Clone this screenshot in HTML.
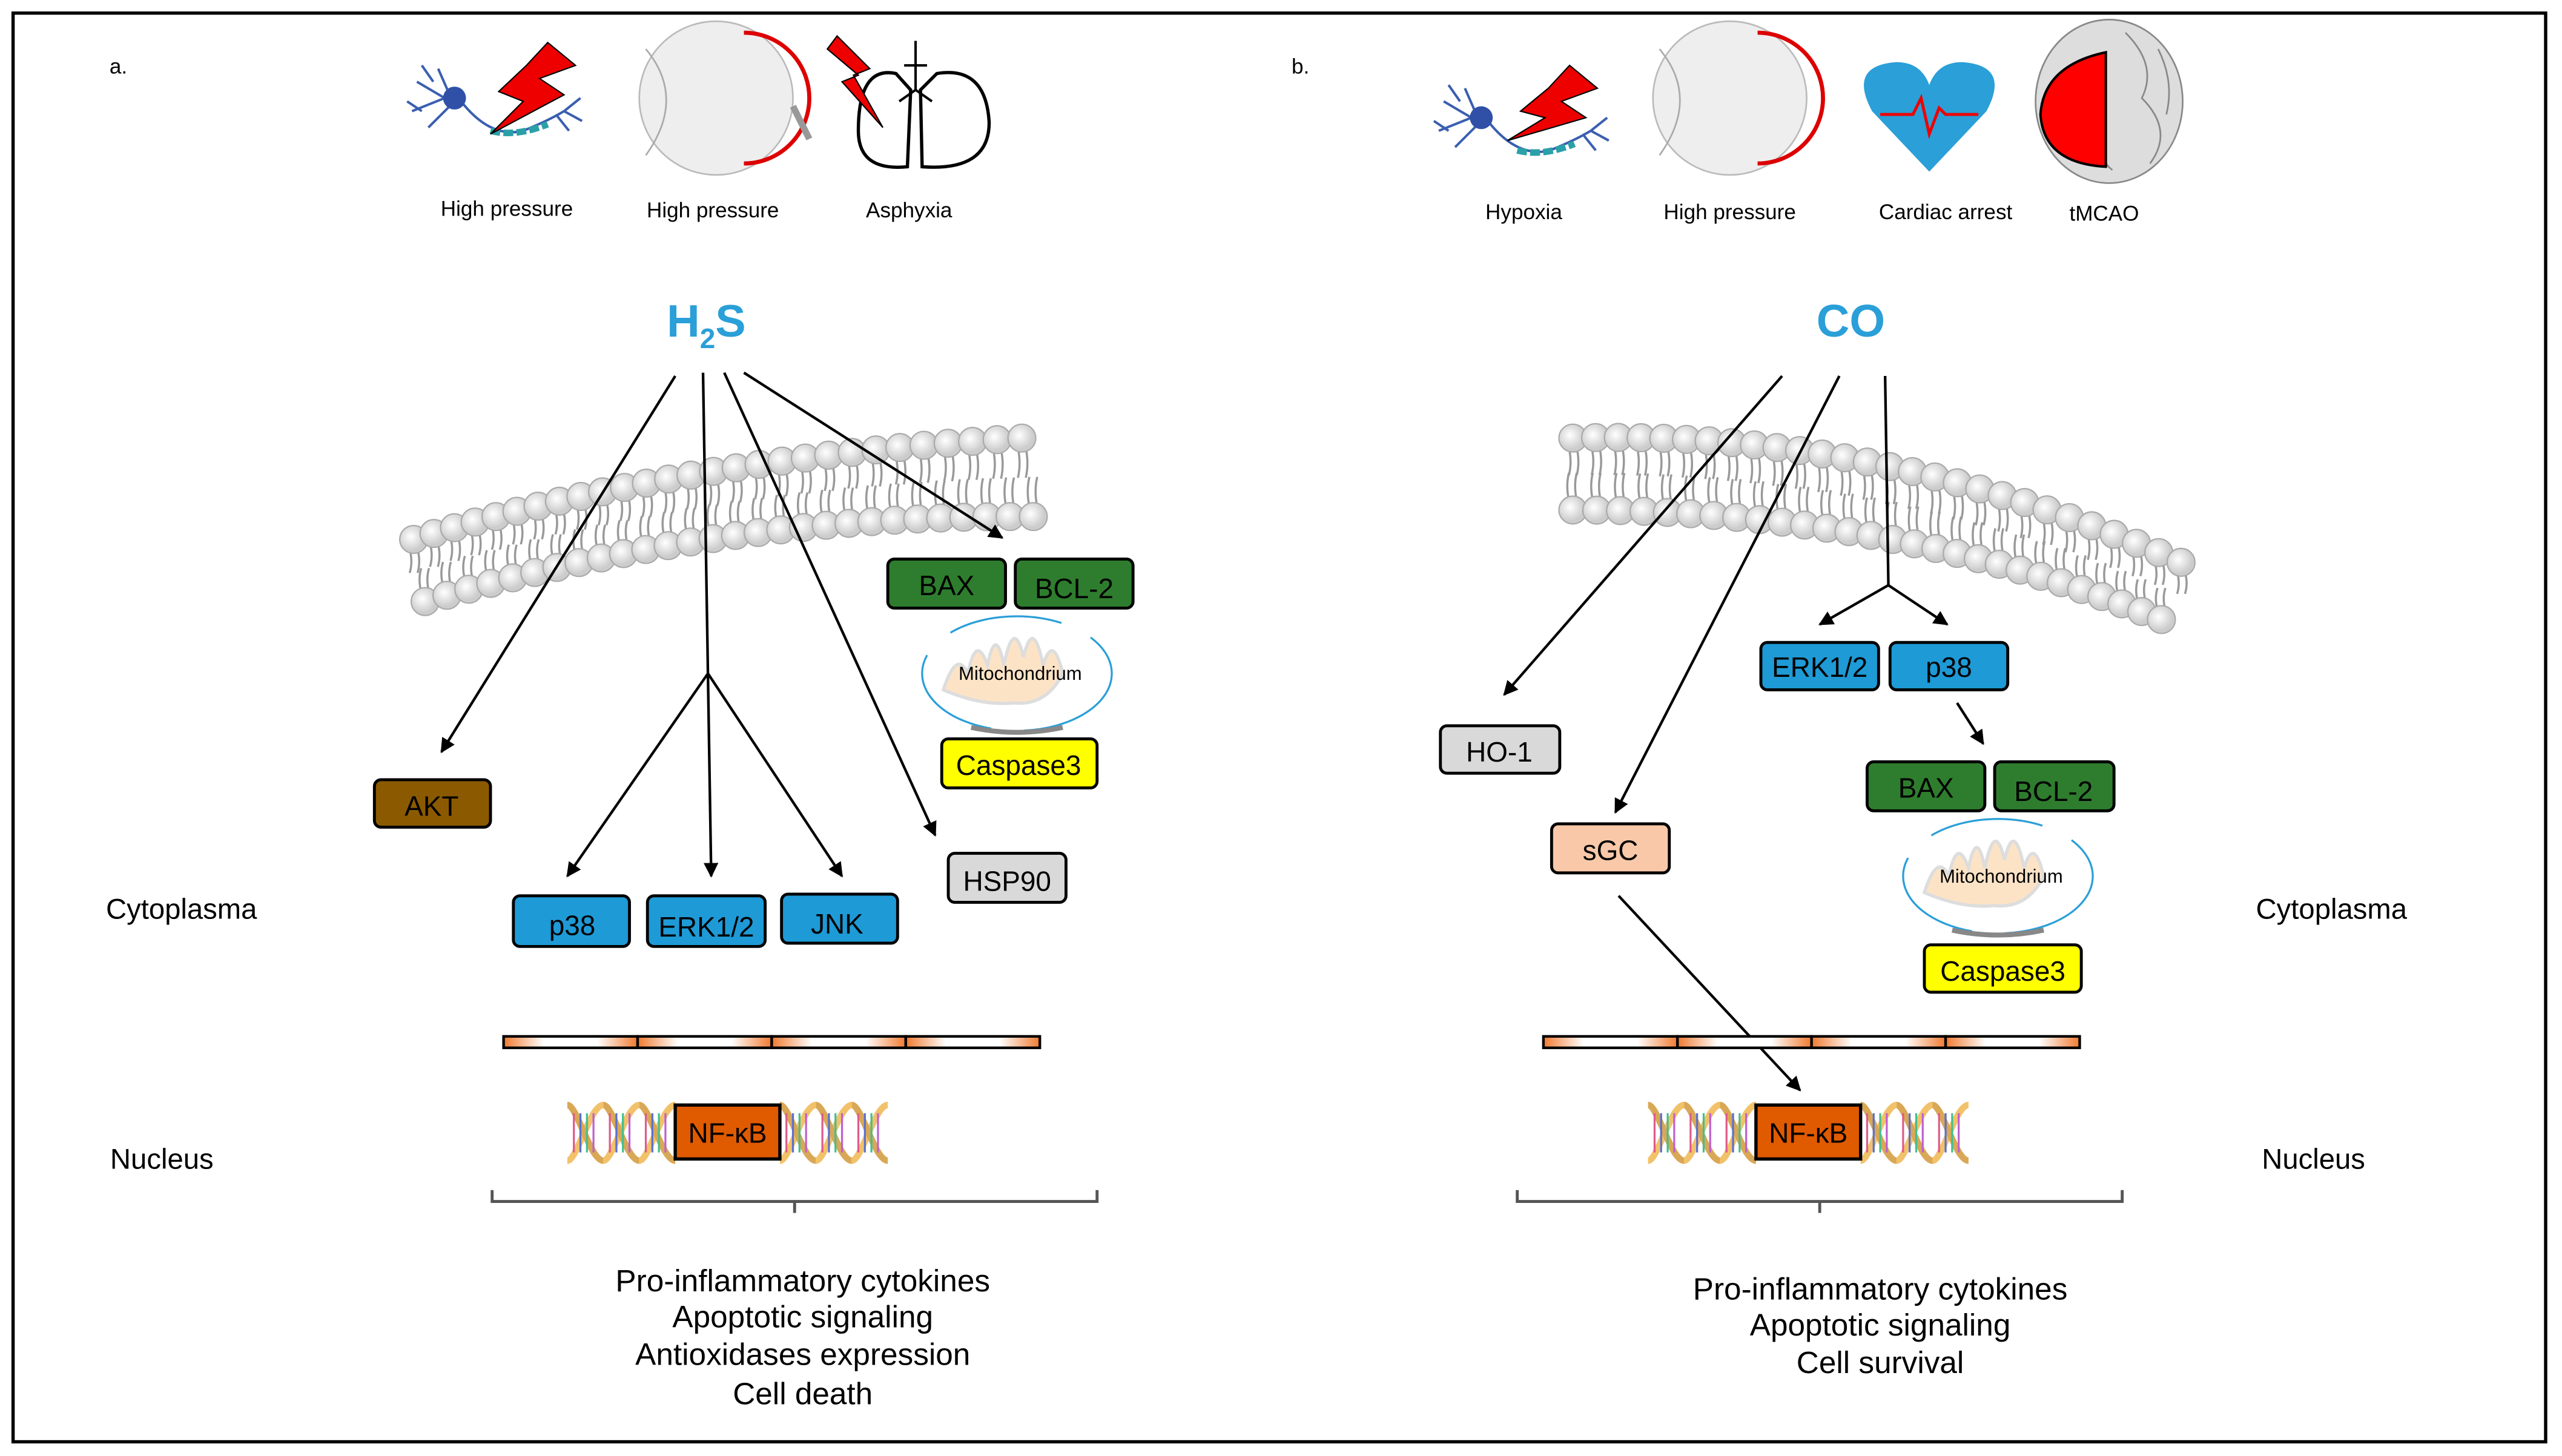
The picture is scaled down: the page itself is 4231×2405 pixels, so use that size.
<!DOCTYPE html>
<html><head><meta charset="utf-8"><style>
html,body{margin:0;padding:0;background:#fff}
svg{display:block}
text{font-family:"Liberation Sans",Arial,sans-serif}
</style></head><body>
<svg id="s" width="4231" height="2405" viewBox="0 0 1567 890.7" preserveAspectRatio="none" xmlns="http://www.w3.org/2000/svg">
<defs>
<marker id="ar" viewBox="0 0 10 10" refX="9" refY="5" markerWidth="9" markerHeight="9" markerUnits="userSpaceOnUse" orient="auto"><path d="M0,0 L10,5 L0,10 z" fill="#000"/></marker>
<linearGradient id="env" x1="0" x2="1"><stop offset="0" stop-color="#f07a30"/><stop offset="0.3" stop-color="#fff"/><stop offset="0.7" stop-color="#fff"/><stop offset="1" stop-color="#f07a30"/></linearGradient>
<radialGradient id="head" cx="0.4" cy="0.4"><stop offset="0" stop-color="#fff"/><stop offset="1" stop-color="#ccc"/></radialGradient>
</defs>
<rect x="8" y="8" width="1549" height="874" fill="#fff" stroke="#000" stroke-width="2"/>
<g id="mem"></g>

<text x="67" y="45" font-size="13">a.</text>
<g stroke="#3a5fb0" stroke-width="1.5" fill="none">
<path d="M272,60 L255,50 M272,60 L252,68 M275,58 L268,42 M278,62 L262,78 M265,50 L258,40 M258,68 L249,62"/>
<path d="M282,62 Q300,85 320,80 Q335,74 345,68 M345,68 L355,60 M345,68 L356,74 M340,70 L348,80"/>
</g>
<circle cx="278" cy="60" r="7" fill="#3050a8"/>
<path d="M300,80 Q315,84 335,76" stroke="#2aa0a8" stroke-width="4" fill="none" stroke-dasharray="6,2"/>
<polygon points="335,26 352,40 330,48 345,58 300,82 320,62 305,56 322,40" fill="#e00" stroke="#000" stroke-width="0.8"/>
<circle cx="438" cy="60" r="47" fill="#eee" stroke="#bbb"/>
<path d="M455,20 A40,40 0 0 1 455,100" stroke="#d00" stroke-width="2.5" fill="none"/>
<path d="M395,30 Q420,60 395,95" stroke="#aaa" fill="none"/>
<path d="M485,65 L495,85" stroke="#999" stroke-width="4"/>
<path d="M548,45 Q525,40 525,80 Q525,105 555,102 L557,55 Z M563,55 L564,102 Q605,105 605,75 Q603,40 573,45 Z" fill="#fff" stroke="#000" stroke-width="2"/>
<path d="M560,25 L560,55 M560,55 L550,62 M560,55 L570,62 M553,40 L567,40" stroke="#000" stroke-width="1.5"/>
<polygon points="512,22 532,42 522,46 540,78 515,50 525,46 506,30" fill="#e00" stroke="#000" stroke-width="0.8"/>
<text x="310" y="132" font-size="13" text-anchor="middle">High pressure</text>
<text x="436" y="133" font-size="13" text-anchor="middle">High pressure</text>
<text x="556" y="133" font-size="13" text-anchor="middle">Asphyxia</text>

<text x="432" y="206" font-size="28" font-weight="bold" fill="#2a9fd8" text-anchor="middle">H<tspan font-size="17" dy="7">2</tspan><tspan dy="-7">S</tspan></text>

<g stroke="#000" stroke-width="1.6" fill="none">
<line x1="413" y1="230" x2="270" y2="460" marker-end="url(#ar)"/>
<line x1="430" y1="228" x2="435" y2="536" marker-end="url(#ar)"/>
<line x1="433" y1="412" x2="347" y2="536" marker-end="url(#ar)"/>
<line x1="433" y1="412" x2="515" y2="536" marker-end="url(#ar)"/>
<line x1="443" y1="228" x2="572" y2="511" marker-end="url(#ar)"/>
<line x1="455" y1="228" x2="613" y2="329" marker-end="url(#ar)"/>
</g>

<g stroke="#000" stroke-width="1.8">
<rect x="543" y="342" width="72" height="30" rx="4" fill="#2e7d2e"/>
<rect x="621" y="342" width="72" height="30" rx="4" fill="#2e7d2e"/>
<rect x="576" y="452" width="95" height="30" rx="4" fill="#ffff00"/>
<rect x="229" y="477" width="71" height="29" rx="4" fill="#8b5a00"/>
<rect x="314" y="548" width="71" height="31" rx="4" fill="#1e9ad6"/>
<rect x="396" y="548" width="72" height="31" rx="4" fill="#1e9ad6"/>
<rect x="478" y="547" width="71" height="30" rx="4" fill="#1e9ad6"/>
<rect x="580" y="522" width="72" height="30" rx="4" fill="#d9d9d9"/>
</g>
<g font-size="17" text-anchor="middle">
<text x="579" y="364">BAX</text><text x="657" y="366">BCL-2</text>
<text x="623" y="474">Caspase3</text><text x="264" y="499">AKT</text>
<text x="350" y="572">p38</text><text x="432" y="573">ERK1/2</text><text x="512" y="571">JNK</text>
<text x="616" y="545">HSP90</text>
</g>
<g id="mitoA"></g>

<text x="111" y="562" font-size="17.5" text-anchor="middle">Cytoplasma</text>
<text x="99" y="715" font-size="17.5" text-anchor="middle">Nucleus</text>

<text x="790" y="45" font-size="13">b.</text>
<g stroke="#3a5fb0" stroke-width="1.5" fill="none">
<path d="M900,72 L883,62 M900,72 L880,80 M903,70 L896,54 M906,74 L890,90 M893,62 L886,52 M886,80 L877,74"/>
<path d="M910,74 Q928,97 948,92 Q963,86 973,80 M973,80 L983,72 M973,80 L984,86 M968,82 L976,92"/>
</g>
<circle cx="906" cy="72" r="7" fill="#3050a8"/>
<path d="M928,92 Q943,96 963,88" stroke="#2aa0a8" stroke-width="4" fill="none" stroke-dasharray="6,2"/>
<polygon points="960,40 977,54 955,62 970,72 922,86 945,72 930,68 947,54" fill="#e00" stroke="#000" stroke-width="0.8"/>
<circle cx="1058" cy="60" r="47" fill="#eee" stroke="#bbb"/>
<path d="M1075,20 A40,40 0 0 1 1075,100" stroke="#d00" stroke-width="2.5" fill="none"/>
<path d="M1015,30 Q1040,60 1015,95" stroke="#aaa" fill="none"/>
<path d="M1180,105 L1145,68 Q1130,40 1160,38 Q1175,38 1180,52 Q1185,38 1200,38 Q1230,40 1215,68 Z" fill="#2a9fd8"/>
<polyline points="1150,70 1170,70 1175,60 1180,82 1186,66 1190,70 1210,70" stroke="#e00" stroke-width="1.8" fill="none"/>
<ellipse cx="1290" cy="62" rx="45" ry="50" fill="#ddd" stroke="#888"/>
<path d="M1288,70 Q1280,95 1292,104 M1300,20 Q1320,40 1310,60 Q1330,80 1315,100 M1320,30 Q1330,50 1325,70" stroke="#888" fill="none"/>
<path d="M1288,32 L1288,102 Q1250,100 1248,70 Q1250,40 1288,32 Z" fill="#f00" stroke="#000" stroke-width="1.5"/>
<text x="932" y="134" font-size="13" text-anchor="middle">Hypoxia</text>
<text x="1058" y="134" font-size="13" text-anchor="middle">High pressure</text>
<text x="1190" y="134" font-size="13" text-anchor="middle">Cardiac arrest</text>
<text x="1287" y="135" font-size="13" text-anchor="middle">tMCAO</text>

<text x="1132" y="206" font-size="28" font-weight="bold" fill="#2a9fd8" text-anchor="middle">CO</text>

<g stroke="#000" stroke-width="1.6" fill="none">
<line x1="1090" y1="230" x2="920" y2="425" marker-end="url(#ar)"/>
<line x1="1125" y1="230" x2="988" y2="497" marker-end="url(#ar)"/>
<line x1="1153" y1="230" x2="1155" y2="358"/>
<line x1="1155" y1="358" x2="1113" y2="382" marker-end="url(#ar)"/>
<line x1="1155" y1="358" x2="1191" y2="382" marker-end="url(#ar)"/>
<line x1="1197" y1="430" x2="1213" y2="455" marker-end="url(#ar)"/>
<line x1="990" y1="548" x2="1101" y2="667" marker-end="url(#ar)"/>
</g>
<g stroke="#000" stroke-width="1.8">
<rect x="1077" y="393" width="72" height="29" rx="4" fill="#1e9ad6"/>
<rect x="1156" y="393" width="72" height="29" rx="4" fill="#1e9ad6"/>
<rect x="1142" y="466" width="72" height="30" rx="4" fill="#2e7d2e"/>
<rect x="1220" y="466" width="73" height="30" rx="4" fill="#2e7d2e"/>
<rect x="1177" y="578" width="96" height="29" rx="4" fill="#ffff00"/>
<rect x="881" y="444" width="73" height="29" rx="4" fill="#d9d9d9"/>
<rect x="949" y="504" width="72" height="30" rx="4" fill="#f8c8a8"/>
</g>
<g font-size="17" text-anchor="middle">
<text x="1113" y="414">ERK1/2</text><text x="1192" y="414">p38</text>
<text x="1178" y="488">BAX</text><text x="1256" y="490">BCL-2</text>
<text x="1225" y="600">Caspase3</text><text x="917" y="466">HO-1</text><text x="985" y="526">sGC</text>
</g>
<g id="mitoB"></g>
<text x="1426" y="562" font-size="17.5" text-anchor="middle">Cytoplasma</text>
<text x="1415" y="715" font-size="17.5" text-anchor="middle">Nucleus</text>

<g id="nuc"></g>

<g font-size="19" text-anchor="middle">
<text x="491" y="790">Pro-inflammatory cytokines</text>
<text x="491" y="812">Apoptotic signaling</text>
<text x="491" y="835">Antioxidases expression</text>
<text x="491" y="859">Cell death</text>
<text x="1150" y="795">Pro-inflammatory cytokines</text>
<text x="1150" y="817">Apoptotic signaling</text>
<text x="1150" y="840">Cell survival</text>
</g>
</svg>
<script>
var NS="http://www.w3.org/2000/svg";
function el(p,t,a,txt){var e=document.createElementNS(NS,t);for(var k in a)e.setAttribute(k,a[k]);if(txt)e.textContent=txt;p.appendChild(e);return e;}
function bz(p0,p1,p2,t){return[(1-t)*(1-t)*p0[0]+2*(1-t)*t*p1[0]+t*t*p2[0],(1-t)*(1-t)*p0[1]+2*(1-t)*t*p1[1]+t*t*p2[1]];}
var mem=document.getElementById('mem');
function membrane(a0,a1,a2,b0,b1,b2,n){
 for(var i=0;i<n;i++){var t=i/(n-1);var A=bz(a0,a1,a2,t),B=bz(b0,b1,b2,t);
  var dy=B[1]-A[1];
  for(var s=-1;s<=1;s+=2){var o=2.4*s;
   el(mem,'path',{d:'M'+(A[0]+o)+','+(A[1]+6)+' q2,'+(dy*0.2)+' 0,'+(dy*0.38)+' M'+(B[0]+o)+','+(B[1]-6)+' q-2,'+(-dy*0.2)+' 0,'+(-dy*0.38),stroke:'#999','stroke-width':1.3,fill:'none'});}
  el(mem,'circle',{cx:A[0],cy:A[1],r:8.5,fill:'url(#head)',stroke:'#aaa','stroke-width':0.8});
  el(mem,'circle',{cx:B[0],cy:B[1],r:8.5,fill:'url(#head)',stroke:'#aaa','stroke-width':0.8});
 }}
membrane([253,330],[420,280],[625,268],[260,368],[440,315],[632,316],28);
membrane([962,268],[1150,262],[1334,344],[962,312],[1160,312],[1322,379],28);
function mito(g,cx,cy){g=document.getElementById(g);
 el(g,'ellipse',{cx:cx,cy:cy,rx:58,ry:35,fill:'#fff',stroke:'#2a9fd8','stroke-width':1.2,'stroke-dasharray':'70,20'});
 el(g,'path',{d:'M'+(cx-45)+','+(cy+10)+' q8,-25 15,-10 q5,-25 12,-5 q5,-25 10,0 q6,-30 12,-5 q6,-25 12,5 q6,-20 12,5 q-10,20 -30,18 q-20,2 -43,-8z',fill:'#fde3c6',stroke:'#ddd','stroke-width':2});
 el(g,'path',{d:'M'+(cx-28)+','+(cy+33)+' q28,6 56,0',stroke:'#888','stroke-width':3,fill:'none'});
 el(g,'text',{x:cx+2,y:cy+4,'font-size':11.5,'text-anchor':'middle'},'Mitochondrium');}
mito('mitoA',622,412);mito('mitoB',1222,536);
var nuc=document.getElementById('nuc');
function dna(x0,x1,y){for(var x=x0;x<x1;x+=22){
 el(nuc,'path',{d:'M'+x+','+(y+17)+' C'+(x+6)+','+(y+17)+' '+(x+14)+','+(y-17)+' '+(x+22)+','+(y-17),stroke:'#f2c26b','stroke-width':4,fill:'none'});
 el(nuc,'path',{d:'M'+x+','+(y-17)+' C'+(x+6)+','+(y-17)+' '+(x+14)+','+(y+17)+' '+(x+22)+','+(y+17),stroke:'#d9a856','stroke-width':4,fill:'none'});
 var c=['#e05a8a','#5a70d0','#40c090','#c060d0'];for(var k=0;k<4;k++)el(nuc,'line',{x1:x+4+k*4,y1:y-12,x2:x+4+k*4,y2:y+12,stroke:c[k],'stroke-width':1.2});}}
function nucleus(ex,nx,bx1,bx2,bt){
 for(var i=0;i<4;i++)el(nuc,'rect',{x:ex+i*82,y:634,width:82,height:7,fill:'url(#env)',stroke:'#000','stroke-width':1.6});
 dna(nx-66,nx,693);dna(nx+64,nx+128,693);
 el(nuc,'rect',{x:nx,y:676,width:64,height:33,fill:'#e05a00',stroke:'#000','stroke-width':2});
 el(nuc,'text',{x:nx+32,y:699,'font-size':17,'text-anchor':'middle'},'NF-\u03baB');
 el(nuc,'path',{d:'M'+bx1+',728 L'+bx1+',735 L'+bx2+',735 L'+bx2+',728 M'+bt+',735 L'+bt+',742',stroke:'#555','stroke-width':1.8,fill:'none'});}
nucleus(308,413,301,671,486);nucleus(944,1074,928,1298,1113);
</script>
</body></html>
